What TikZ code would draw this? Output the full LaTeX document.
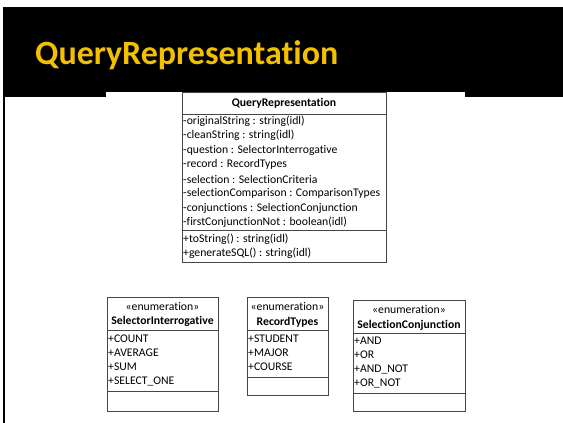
\documentclass[tikz,border=0pt]{standalone}
\usepackage{fontspec}
\setmainfont{Carlito}[Ligatures=NoCommon]
\definecolor{titleyellow}{RGB}{242,192,0}
\definecolor{boxline}{RGB}{70,70,70}
\begin{document}
\begin{tikzpicture}[x=1pt,y=-1pt,
  classbox/.style={draw=boxline, line width=0.8pt, anchor=north west, inner sep=0pt},
  sepline/.style={draw=boxline, line width=0.8pt},
  txt/.style={anchor=west, inner sep=0pt, font=\fontsize{11.7}{13}\selectfont},
  ctxt/.style={anchor=center, inner sep=0pt, font=\fontsize{11.7}{13}\selectfont},
  btxt/.style={anchor=center, inner sep=0pt, font=\bfseries\fontsize{11.7}{13}\selectfont}]
\useasboundingbox (0,0) rectangle (563,423);
% header band
\fill[black] (3,7) rectangle (563,97);
\fill[white] (106,92) rectangle (465,97);
\draw[line width=2pt] (4,97) -- (4,423);
\node[font=\bfseries\fontsize{34}{40}\selectfont, text=titleyellow, anchor=base west, inner sep=0pt] (title) at (35,64) {QueryRepresentation};

% main class
\node[classbox, minimum width=204, minimum height=170] (qr) at (182,92) {};
\draw[sepline] (qr.west |- 0,114) -- (qr.east |- 0,114);
\draw[sepline] (qr.west |- 0,230) -- (qr.east |- 0,230);
\node[btxt] (qrname) at (284,103) {QueryRepresentation};
\node[txt] (a1) at (183,121) {-originalString : string(idl)};
\node[txt] (a2) at (183,135.5) {-cleanString : string(idl)};
\node[txt] (a3) at (183,150) {-question : SelectorInterrogative};
\node[txt] (a4) at (183,164.5) {-record : RecordTypes};
\node[txt] (a5) at (183,179) {-selection : SelectionCriteria};
\node[txt] (a6) at (183,193.5) {-selectionComparison : ComparisonTypes};
\node[txt] (a7) at (183,208) {-conjunctions : SelectionConjunction};
\node[txt] (a8) at (183,222.5) {-firstConjunctionNot : boolean(idl)};
\node[txt] (m1) at (183,239) {+toString() : string(idl)};
\node[txt] (m2) at (183,253) {+generateSQL() : string(idl)};

% SelectorInterrogative
\node[classbox, minimum width=111, minimum height=114] (si) at (107,297) {};
\draw[sepline] (si.west |- 0,330) -- (si.east |- 0,330);
\draw[sepline] (si.west |- 0,391) -- (si.east |- 0,391);
\node[ctxt] (sis) at (162.5,307) {«enumeration»};
\node[btxt] (sin) at (162.5,321) {SelectorInterrogative};
\node[txt] (si1) at (108,339) {+COUNT};
\node[txt] (si2) at (108,353) {+AVERAGE};
\node[txt] (si3) at (108,367) {+SUM};
\node[txt] (si4) at (108,381) {+SELECT\_ONE};

% RecordTypes
\node[classbox, minimum width=81, minimum height=98] (rt) at (247,297) {};
\draw[sepline] (rt.west |- 0,330) -- (rt.east |- 0,330);
\draw[sepline] (rt.west |- 0,377) -- (rt.east |- 0,377);
\node[ctxt] (rts) at (287.5,307) {«enumeration»};
\node[btxt] (rtn) at (287.5,322) {RecordTypes};
\node[txt] (rt1) at (248,339) {+STUDENT};
\node[txt] (rt2) at (248,353) {+MAJOR};
\node[txt] (rt3) at (248,367) {+COURSE};

% SelectionConjunction
\node[classbox, minimum width=112, minimum height=111] (sc) at (353,300) {};
\draw[sepline] (sc.west |- 0,333) -- (sc.east |- 0,333);
\draw[sepline] (sc.west |- 0,393) -- (sc.east |- 0,393);
\node[ctxt] (scs) at (409,310) {«enumeration»};
\node[btxt] (scn) at (409,325) {SelectionConjunction};
\node[txt] (sc1) at (354,341) {+AND};
\node[txt] (sc2) at (354,355) {+OR};
\node[txt] (sc3) at (354,369) {+AND\_NOT};
\node[txt] (sc4) at (354,383) {+OR\_NOT};
\end{tikzpicture}
\end{document}
